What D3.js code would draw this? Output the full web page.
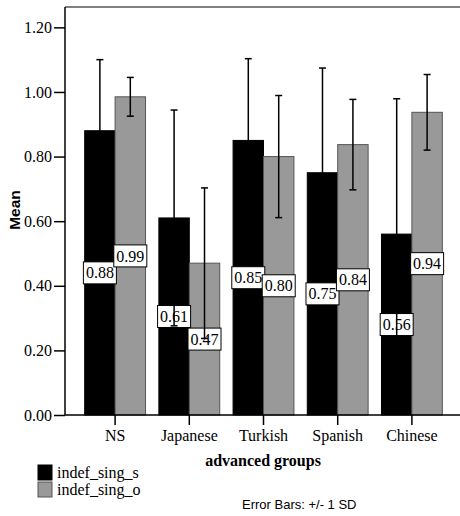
<!DOCTYPE html>
<html>
<head>
<meta charset="utf-8">
<script src="https://cdn.jsdelivr.net/npm/d3@7"></script>
<style>
  body { margin:0; background:white; }
</style>
</head>
<body>
<div id="chart"></div>
<script>
var groups = ["NS", "Japanese", "Turkish", "Spanish", "Chinese"];
var series = ["indef_sing_s", "indef_sing_o"];
var meanS = [0.88, 0.61, 0.85, 0.75, 0.56];
var meanO = [0.985, 0.47, 0.80, 0.837, 0.937];
var sdS = [0.22, 0.334, 0.253, 0.324, 0.419];
var sdO = [0.06, 0.233, 0.189, 0.14, 0.117];
var labelS = ["0.88", "0.61", "0.85", "0.75", "0.56"];
var labelO = ["0.99", "0.47", "0.80", "0.84", "0.94"];
var yTicks = [0, 0.2, 0.4, 0.6, 0.8, 1.0, 1.2];

var serif = '"Liberation Serif", "Times New Roman", serif';
var sans = '"Liberation Sans", Arial, sans-serif';

var w = 460, h = 516;
var plotLeft = 65, plotTop = 7, plotBottom = 415, plotRight = 463;

var svg = d3.select('#chart').append('svg')
  .attr('width', w).attr('height', h);

var y = d3.scaleLinear().domain([0, 1.263]).range([plotBottom, plotTop]);
var x = d3.scaleBand().domain(groups).range([78, 449]).paddingInner(0.18).paddingOuter(0.09);
var xs = d3.scaleBand().domain(series).range([0, x.bandwidth()]);
var colors = {"indef_sing_s": "#000000", "indef_sing_o": "#999999"};
var strokes = {"indef_sing_s": "#000000", "indef_sing_o": "#555555"};

var data = [];
groups.forEach(function(g, i) {
  data.push({g: g, s: series[0], v: meanS[i], sd: sdS[i], lab: labelS[i]});
  data.push({g: g, s: series[1], v: meanO[i], sd: sdO[i], lab: labelO[i]});
});

// frame
svg.append('line').attr('x1', plotLeft).attr('x2', plotRight).attr('y1', plotTop).attr('y2', plotTop)
  .attr('stroke', '#808080').attr('stroke-width', 2);

// bars
svg.selectAll('rect.bar').data(data).enter().append('rect')
  .attr('class', 'bar')
  .attr('x', function(d) { return x(d.g) + xs(d.s); })
  .attr('y', function(d) { return y(d.v); })
  .attr('width', xs.bandwidth())
  .attr('height', function(d) { return y(0) - y(d.v); })
  .attr('fill', function(d) { return colors[d.s]; })
  .attr('stroke', function(d) { return strokes[d.s]; })
  .attr('stroke-width', 1);

// value labels
var lab = svg.selectAll('g.lab').data(data).enter().append('g')
  .attr('transform', function(d) {
    return 'translate(' + (x(d.g) + xs(d.s) + xs.bandwidth() / 2) + ',' + y(d.v / 2) + ')';
  });
lab.append('rect').attr('x', -16.5).attr('y', -11).attr('width', 33).attr('height', 22)
  .attr('fill', 'white').attr('stroke', 'black').attr('stroke-width', 1);
lab.append('text').attr('text-anchor', 'middle').attr('dy', '0.35em')
  .style('font-family', serif).style('font-size', '16px').text(function(d) { return d.lab; });

// error bars
var eb = svg.selectAll('g.eb').data(data).enter().append('g')
  .attr('transform', function(d) { return 'translate(' + (x(d.g) + xs(d.s) + xs.bandwidth() / 2) + ',0)'; });
eb.append('line').attr('y1', function(d) { return y(d.v - d.sd); })
  .attr('y2', function(d) { return y(d.v + d.sd); })
  .attr('stroke', 'black').attr('stroke-width', 1.5);
eb.append('line').attr('x1', -3.5).attr('x2', 3.5)
  .attr('y1', function(d) { return y(d.v + d.sd); }).attr('y2', function(d) { return y(d.v + d.sd); })
  .attr('stroke', 'black').attr('stroke-width', 1.5);
eb.append('line').attr('x1', -3.5).attr('x2', 3.5)
  .attr('y1', function(d) { return y(d.v - d.sd); }).attr('y2', function(d) { return y(d.v - d.sd); })
  .attr('stroke', 'black').attr('stroke-width', 1.5);

// y axis
var yAxis = svg.append('g').attr('transform', 'translate(' + plotLeft + ',0)')
  .call(d3.axisLeft(y).tickValues(yTicks).tickFormat(d3.format('.2f')).tickSize(11).tickPadding(2));
yAxis.select('.domain').remove();
yAxis.append('line').attr('y1', plotTop).attr('y2', plotBottom).attr('stroke', 'black').attr('stroke-width', 1.5);
yAxis.selectAll('.tick line').attr('stroke-width', 1.5);
yAxis.selectAll('text').attr('fill', 'black')
  .style('font-family', serif).style('font-size', '16px');

// x axis
var xAxis = svg.append('g').attr('transform', 'translate(0,' + plotBottom + ')')
  .call(d3.axisBottom(x).tickSize(10).tickPadding(5));
xAxis.select('.domain').remove();
xAxis.append('line').attr('x1', plotLeft).attr('x2', plotRight).attr('stroke', 'black').attr('stroke-width', 1.5);
xAxis.selectAll('.tick line').attr('stroke-width', 1.5);
xAxis.selectAll('text').attr('fill', 'black')
  .style('font-family', serif).style('font-size', '16px');

// axis titles
svg.append('text').attr('x', 263).attr('y', 466).attr('text-anchor', 'middle')
  .style('font-family', serif).style('font-size', '16px').style('font-weight', 'bold')
  .text('advanced groups');
svg.append('text').attr('transform', 'translate(20,210) rotate(-90)').attr('text-anchor', 'middle')
  .style('font-family', sans).style('font-size', '15.5px').style('font-weight', 'bold')
  .text('Mean');

// legend
var leg = svg.selectAll('g.leg').data(series).enter().append('g')
  .attr('transform', function(d, i) { return 'translate(38,' + (465 + i * 17) + ')'; });
leg.append('rect').attr('width', 14).attr('height', 15)
  .attr('fill', function(d) { return colors[d]; })
  .attr('stroke', function(d) { return strokes[d]; });
leg.append('text').attr('x', 19).attr('y', 13)
  .style('font-family', serif).style('font-size', '16px')
  .text(function(d) { return d; });

svg.append('text').attr('x', 242).attr('y', 509)
  .style('font-family', sans).style('font-size', '13px')
  .text('Error Bars: +/- 1 SD');
</script>
</body>
</html>
